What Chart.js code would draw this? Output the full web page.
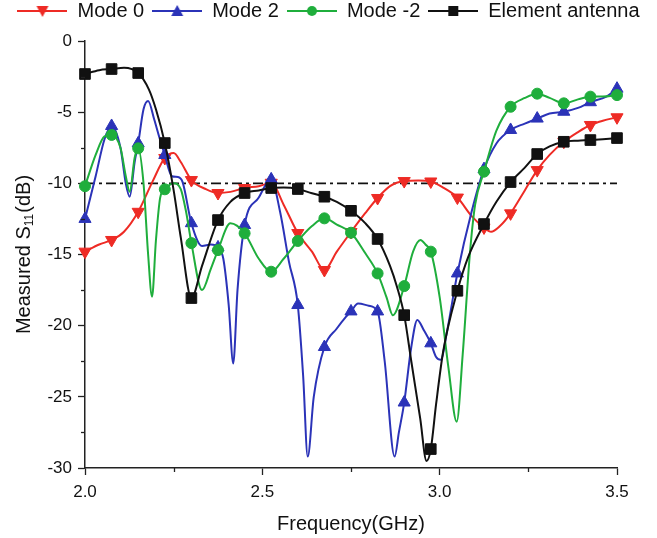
<!DOCTYPE html>
<html>
<head>
<meta charset="utf-8">
<script src="https://cdn.jsdelivr.net/npm/chart.js@4"></script>
<style>
html,body{margin:0;padding:0;background:#fff;}
#wrap{width:657px;height:538px;}
</style>
</head>
<body>
<div id="wrap"><canvas id="c" width="657" height="538"></canvas></div>
<script>
// ---- data ----
const seriesNames = ["Mode 0", "Mode 2", "Mode -2", "Element antenna"];

const mode0Freq = [2.0,2.04,2.075,2.11,2.15,2.19,2.225,2.25,2.27,2.3,2.34,2.375,2.41,2.45,2.49,2.525,2.56,2.6,2.64,2.675,2.71,2.75,2.79,2.825,2.86,2.9,2.94,2.975,3.01,3.05,3.09,3.125,3.145,3.17,3.2,3.24,3.275,3.31,3.35,3.39,3.425,3.46,3.5];
const mode0Vals = [-14.8,-14.3,-13.98,-13.4,-12.0,-9.9,-8.22,-7.87,-8.5,-9.77,-10.4,-10.68,-10.6,-10.33,-10.2,-9.96,-11.5,-13.49,-14.8,-16.09,-14.8,-13.42,-12.1,-11.03,-10.2,-9.84,-9.8,-9.87,-10.3,-11.0,-12.3,-13.1,-13.4,-13.0,-12.11,-10.5,-9.07,-8.0,-7.08,-6.4,-5.9,-5.6,-5.36];

const mode2Freq = [2.0,2.03,2.055,2.075,2.1,2.115,2.126,2.14,2.15,2.165,2.178,2.195,2.21,2.225,2.245,2.262,2.275,2.3,2.33,2.355,2.375,2.39,2.405,2.418,2.43,2.45,2.49,2.525,2.55,2.575,2.6,2.615,2.628,2.645,2.675,2.71,2.735,2.75,2.77,2.8,2.825,2.845,2.873,2.885,2.9,2.92,2.937,2.955,2.975,2.99,3.003,3.02,3.05,3.09,3.125,3.16,3.2,3.24,3.275,3.31,3.35,3.39,3.425,3.47,3.5];
const mode2Vals = [-12.5,-9.5,-6.9,-5.97,-7.5,-10.0,-10.94,-8.5,-7.19,-4.8,-4.22,-5.5,-6.8,-8.01,-9.5,-9.55,-9.9,-12.8,-14.4,-14.3,-14.5,-15.3,-18.5,-22.65,-17.5,-12.93,-11.0,-9.72,-12.0,-15.5,-18.55,-23.5,-29.2,-25.0,-21.5,-20.2,-19.4,-19.0,-18.45,-18.6,-19.0,-22.5,-29.2,-27.5,-25.4,-21.5,-19.6,-20.3,-21.24,-22.2,-22.4,-20.5,-16.33,-12.0,-9.0,-7.2,-6.25,-5.8,-5.45,-5.1,-4.97,-4.7,-4.3,-3.9,-3.35];

const modeM2Freq = [2.0,2.03,2.055,2.075,2.1,2.115,2.126,2.14,2.15,2.165,2.178,2.189,2.2,2.212,2.225,2.25,2.27,2.285,2.3,2.33,2.355,2.375,2.41,2.45,2.49,2.525,2.56,2.6,2.64,2.675,2.71,2.75,2.79,2.825,2.85,2.868,2.9,2.925,2.946,2.96,2.975,3.0,3.025,3.048,3.065,3.085,3.1,3.125,3.16,3.2,3.24,3.275,3.31,3.35,3.39,3.425,3.46,3.5];
const modeM2Vals = [-10.2,-8.0,-6.7,-6.6,-7.5,-9.5,-10.59,-8.2,-7.54,-10.0,-15.0,-17.97,-14.0,-11.0,-10.42,-10.0,-10.4,-12.0,-14.2,-17.5,-16.0,-14.69,-12.81,-13.51,-15.3,-16.21,-15.3,-14.05,-13.0,-12.46,-12.9,-13.47,-14.9,-16.33,-18.0,-19.26,-17.22,-14.8,-13.98,-14.3,-14.8,-18.0,-23.0,-26.75,-22.0,-15.0,-11.5,-9.18,-6.3,-4.62,-4.0,-3.7,-4.0,-4.38,-4.1,-3.91,-3.9,-3.8];

const elemFreq = [2.0,2.04,2.075,2.11,2.15,2.18,2.2,2.225,2.25,2.27,2.3,2.33,2.375,2.41,2.45,2.49,2.525,2.56,2.6,2.64,2.675,2.71,2.75,2.79,2.825,2.86,2.88,2.9,2.92,2.945,2.963,2.975,2.99,3.01,3.05,3.08,3.125,3.16,3.2,3.24,3.275,3.31,3.35,3.39,3.425,3.46,3.5];
const elemVals = [-2.32,-2.05,-1.97,-1.88,-2.25,-3.4,-4.8,-7.17,-10.5,-13.8,-18.06,-15.8,-12.58,-11.3,-10.68,-10.5,-10.33,-10.3,-10.4,-10.7,-10.94,-11.3,-11.93,-12.8,-13.91,-15.8,-17.3,-19.26,-22.5,-26.5,-29.5,-28.67,-25.5,-21.8,-17.55,-15.2,-12.86,-11.3,-9.91,-8.9,-7.94,-7.4,-7.08,-7.0,-6.96,-6.9,-6.82];

const thresholdFreq = [2.0, 3.5];
const thresholdVals = [-10, -10];

const xTicks = [2.0, 2.5, 3.0, 3.5];
const yTicks = [0, -5, -10, -15, -20, -25, -30];
const xMinorTicks = [2.25, 2.75, 3.25];
const yMinorTicks = [-2.5, -7.5, -12.5, -17.5, -22.5, -27.5];

// ---- styling ----
const FONT = "'Liberation Sans', Arial, Helvetica, sans-serif";
const COLORS = ['#ee2b25', '#2b33b8', '#1fae3c', '#111111'];
const STYLES = ['triangle', 'triangle', 'circle', 'rect'];
const ROT = [180, 0, 0, 0];
const RAD = [7, 7, 5.5, 7.5];

function pts(xs, ys){ return xs.map((x,i)=>({x:x, y:ys[i]})); }
function isMarker(x){ const k=(x-2.0)/0.075; return Math.abs(k-Math.round(k))<1e-6; }

function legendIcon(i){
  const c=document.createElement('canvas'); c.width=50; c.height=16;
  const g=c.getContext('2d'); const col=COLORS[i];
  g.strokeStyle=col; g.lineWidth=2; g.beginPath(); g.moveTo(0,8); g.lineTo(50,8); g.stroke();
  g.fillStyle=col; g.beginPath();
  const cx=25, cy=8;
  if(i===0){ g.moveTo(cx-6,cy-5); g.lineTo(cx+6,cy-5); g.lineTo(cx,cy+6); g.closePath(); }
  else if(i===1){ g.moveTo(cx-6,cy+5); g.lineTo(cx+6,cy+5); g.lineTo(cx,cy-6); g.closePath(); }
  else if(i===2){ g.arc(cx,cy,5,0,Math.PI*2); }
  else { g.rect(cx-5,cy-5,10,10); }
  g.fill();
  return c;
}

const allData = [pts(mode0Freq,mode0Vals), pts(mode2Freq,mode2Vals), pts(modeM2Freq,modeM2Vals), pts(elemFreq,elemVals)];
const datasets = allData.map((d,i)=>({
  label: seriesNames[i],
  data: d,
  borderColor: COLORS[i],
  backgroundColor: COLORS[i],
  borderWidth: 2,
  cubicInterpolationMode: 'monotone',
  pointStyle: STYLES[i],
  rotation: ROT[i],
  pointRadius: (ctx)=> (ctx.raw && isMarker(ctx.raw.x)) ? RAD[i] : 0,
  pointHoverRadius: 0,
  pointBackgroundColor: COLORS[i],
  pointBorderColor: COLORS[i],
  pointBorderWidth: 1,
  clip: false,
  order: 4-i
}));
datasets.push({
  label: 'threshold',
  data: pts(thresholdFreq, thresholdVals),
  borderColor: '#111',
  borderWidth: 1.6,
  borderDash: [10,4,3,4],
  pointRadius: 0,
  order: 10
});

const legendH = {
  id:'legendH',
  beforeInit(chart){
    const fit = chart.legend.fit;
    chart.legend.fit = function(){ fit.call(this); this.height = 48; };
  }
};

const extras = {
  id:'extras',
  afterDraw(chart){
    const ctx=chart.ctx, xs=chart.scales.x, ys=chart.scales.y;
    ctx.save();
    ctx.strokeStyle='#222'; ctx.lineWidth=1.3;
    yMinorTicks.forEach(v=>{ const p=Math.round(ys.getPixelForValue(v))+0.5; ctx.beginPath(); ctx.moveTo(xs.left,p); ctx.lineTo(xs.left-4,p); ctx.stroke(); });
    xMinorTicks.forEach(v=>{ const p=Math.round(xs.getPixelForValue(v))+0.5; ctx.beginPath(); ctx.moveTo(p,ys.bottom); ctx.lineTo(p,ys.bottom+4); ctx.stroke(); });
    // y-axis title with subscript
    ctx.fillStyle='#111';
    ctx.translate(24, (chart.chartArea.top+chart.chartArea.bottom)/2);
    ctx.rotate(-Math.PI/2);
    ctx.textBaseline='middle';
    const big='20px '+FONT, small='12px '+FONT;
    const a='Measured S', b='11', c='(dB)';
    ctx.font=big; const wa=ctx.measureText(a).width, wc=ctx.measureText(c).width;
    ctx.font=small; const wb=ctx.measureText(b).width;
    let x=-(wa+wb+wc+1)/2;
    ctx.font=big; ctx.textAlign='left'; ctx.fillText(a,x,0); x+=wa;
    ctx.font=small; ctx.fillText(b,x,6); x+=wb+1;
    ctx.font=big; ctx.fillText(c,x,0);
    ctx.restore();
  }
};

new Chart(document.getElementById('c'), {
  type:'line',
  data:{ datasets },
  plugins:[legendH, extras],
  options:{
    responsive:false,
    devicePixelRatio:1,
    animation:false,
    layout:{ padding:{ left:0, right:0, top:-7, bottom:0 } },
    plugins:{
      tooltip:{enabled:false},
      legend:{
        display:true,
        position:'top',
        align:'center',
        labels:{
          usePointStyle:true,
          pointStyleWidth:50,
          padding:8,
          color:'#111',
          font:{ family:FONT, size:20 },
          filter:(item)=> item.datasetIndex < 4,
          generateLabels:(chart)=> seriesNames.map((n,i)=>({
            text:n, datasetIndex:i, pointStyle:legendIcon(i), fillStyle:COLORS[i], strokeStyle:COLORS[i], lineWidth:0, hidden:false, fontColor:'#111'
          }))
        }
      }
    },
    scales:{
      x:{
        type:'linear', min:2.0, max:3.5,
        afterBuildTicks:(s)=>{ s.ticks = xTicks.map(v=>({value:v})); },
        afterFit:(s)=>{ s.height = 70; },
        ticks:{ color:'#111', font:{family:FONT,size:17}, padding:7, callback:(v)=>Number(v).toFixed(1) },
        grid:{ drawOnChartArea:false, drawTicks:true, tickLength:7, tickColor:'#222', tickWidth:1.3 },
        border:{ display:true, color:'#222', width:1.5 },
        title:{ display:true, text:'Frequency(GHz)', color:'#111', font:{family:FONT,size:20}, padding:{top:0,bottom:2} }
      },
      y:{
        type:'linear', min:-30, max:0,
        afterBuildTicks:(s)=>{ s.ticks = yTicks.map(v=>({value:v})); },
        afterFit:(s)=>{ s.width = 85; },
        ticks:{ color:'#111', font:{family:FONT,size:17}, padding:6, callback:(v)=>String(v) },
        grid:{ drawOnChartArea:false, drawTicks:true, tickLength:7, tickColor:'#222', tickWidth:1.3 },
        border:{ display:true, color:'#222', width:1.5 }
      },
      yRight:{
        type:'linear', position:'right', display:true, min:-30, max:0,
        afterFit:(s)=>{ s.width = 40; },
        ticks:{ display:false },
        grid:{ display:false, drawTicks:false },
        border:{ display:false }
      }
    }
  }
});
</script>
</body>
</html>
